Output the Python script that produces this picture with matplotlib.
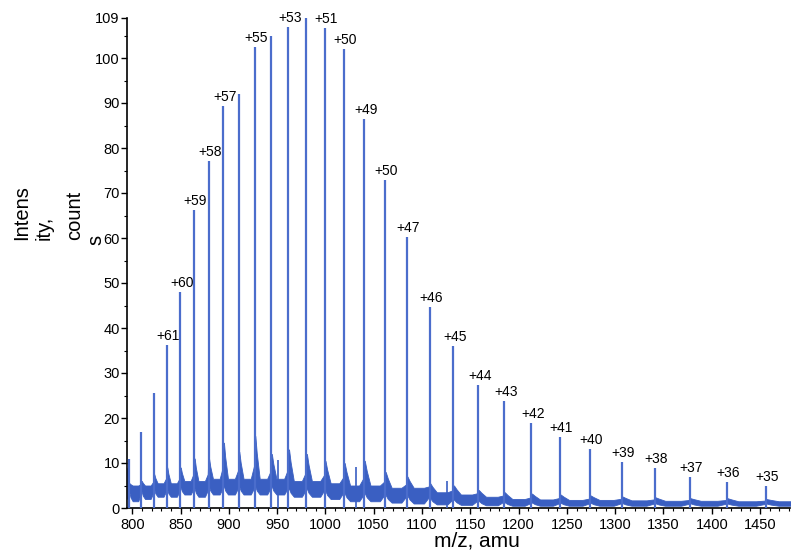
import matplotlib
matplotlib.use('Agg')
import matplotlib.pyplot as plt
from matplotlib.ticker import MultipleLocator, FixedLocator

plt.rcParams['font.family'] = ['Liberation Sans', 'DejaVu Sans']

# ---- data ----
peak_mz = [796.6, 809.3, 822.2, 835.7, 849.6, 864.0, 878.9, 894.3, 910.2, 926.8,
           943.9, 961.7, 980.2, 999.4, 1019.3, 1040.1, 1061.8, 1084.3, 1107.9, 1132.5,
           1158.2, 1185.1, 1213.3, 1242.9, 1273.9, 1306.6, 1340.9, 1377.1, 1415.4, 1455.8]
peak_int = [11.0, 17.0, 25.6, 36.2, 48.1, 66.2, 77.1, 89.3, 91.9, 102.5,
            104.9, 107.0, 109.0, 106.6, 101.9, 86.4, 72.9, 60.2, 44.7, 36.0,
            27.3, 23.8, 19.0, 15.8, 13.1, 10.3, 8.8, 7.0, 5.8, 4.9]
peak_label = ['', '', '', '+61', '+60', '+59', '+58', '+57', '', '+55',
              '', '+53', '', '+51', '+50', '+49', '+50', '+47', '+46', '+45',
              '+44', '+43', '+42', '+41', '+40', '+39', '+38', '+37', '+36', '+35']
# noisy baseline band after each peak: shoulder top, valley top, valley bottom
shoulder_hi = [5.5, 6.0, 7.5, 9.0, 9.0, 11.0, 11.0, 14.5, 12.5, 16.0,
               12.0, 13.0, 12.0, 10.5, 10.0, 10.5, 8.0, 7.0, 5.5, 5.0,
               4.0, 3.5, 3.2, 3.0, 2.8, 2.6, 2.4, 2.2, 2.2, 2.0]
valley_hi = [5.0, 5.0, 5.5, 5.5, 6.0, 6.0, 6.5, 6.5, 6.5, 6.5,
             6.5, 6.0, 6.0, 5.5, 5.0, 5.0, 4.5, 4.5, 3.5, 3.0,
             2.5, 2.0, 1.9, 1.8, 1.8, 1.7, 1.6, 1.6, 1.5, 1.5]
valley_lo = [1.5, 2.0, 2.5, 2.5, 3.0, 2.5, 3.0, 3.0, 3.0, 3.0,
             3.0, 2.5, 2.5, 2.0, 1.5, 1.5, 1.2, 1.0, 0.8, 0.7,
             0.6, 0.5, 0.5, 0.5, 0.5, 0.5, 0.5, 0.5, 0.5, 0.5]
sec_mz = [951.0, 1032.0, 1125.5]
sec_int = [10.6, 9.2, 6.0]

x_major = list(range(800, 1451, 50))
y_major = [0, 10, 20, 30, 40, 50, 60, 70, 80, 90, 100, 109]
xlim = (794.2, 1481.0)
ylim = (0, 109)

# ---- figure ----
W, H = 791, 550
fig = plt.figure(figsize=(W / 100, H / 100), dpi=100)
ax = fig.add_axes([126.7 / W, 1 - 508 / H, (790 - 126.7) / W, (508 - 17.5) / H])

band_color = '#3a5fc2'
peak_color = '#4b6dcc'

# build the baseline band polygon from the read levels
xs, lo, hi = [xlim[0]], [2.0], [9.0]
n = len(peak_mz)
for i, p in enumerate(peak_mz):
    nxt = peak_mz[i + 1] if i + 1 < n else xlim[1] + 20
    gap = nxt - p
    sh, vh, vl = shoulder_hi[i], valley_hi[i], valley_lo[i]
    base_lo = 0.5 * (vl + vh)
    nxt_rise = vh + 0.3 * (shoulder_hi[i + 1] - vh) if i + 1 < n else vh
    xs += [p - 0.3, p + 0.6, p + 0.12 * gap, p + 0.3 * gap, p + 0.75 * gap, nxt - 0.8]
    hi += [sh, sh, 0.6 * sh + 0.4 * vh, vh, vh, nxt_rise]
    lo += [base_lo, base_lo, 0.5 * (base_lo + vl), vl, vl, vl + 0.4 * (vh - vl)]
ax.fill_between(xs, lo, hi, color=band_color, lw=0.6, edgecolor=band_color, zorder=2)

ax.vlines(peak_mz, 0, peak_int, color=peak_color, lw=1.6, zorder=3)
ax.vlines(sec_mz, 0, sec_int, color=band_color, lw=1.2, zorder=3)

for p, h, lab in zip(peak_mz, peak_int, peak_label):
    if lab:
        ax.text(p + 1.5, h + 2.0, lab, ha='center', va='center', fontsize=10,
                color='black', zorder=4)

ax.set_xlim(*xlim)
ax.set_ylim(*ylim)
ax.xaxis.set_major_locator(FixedLocator(x_major))
ax.xaxis.set_minor_locator(MultipleLocator(10))
ax.yaxis.set_major_locator(FixedLocator(y_major))
ax.yaxis.set_minor_locator(FixedLocator(list(range(5, 109, 10))))
ax.tick_params(which='major', direction='out', length=4, width=1, labelsize=10.5, pad=2)
ax.tick_params(which='minor', direction='out', length=2.5, width=0.8)
ax.tick_params(axis='x', which='major', pad=3)
ax.tick_params(axis='y', which='major', pad=1)
for s in ('top', 'right'):
    ax.spines[s].set_visible(False)
for s in ('left', 'bottom'):
    ax.spines[s].set_linewidth(1.2)

# y-axis label, broken over lines as in the reference
ylab_parts = ['Intens', 'ity,', 'count', 's']
ylab_x = [27, 49.5, 80, 101]
ylab_y = [240, 240, 240, 245]
for t, xp, yp in zip(ylab_parts, ylab_x, ylab_y):
    fig.text(xp / W, 1 - yp / H, t, rotation=90, rotation_mode='anchor',
             ha='left', va='baseline', fontsize=14.5)

fig.text(477 / W, 1 - 546.5 / H, 'm/z, amu', ha='center', va='baseline', fontsize=15)

fig.savefig('out.png', dpi=100)
